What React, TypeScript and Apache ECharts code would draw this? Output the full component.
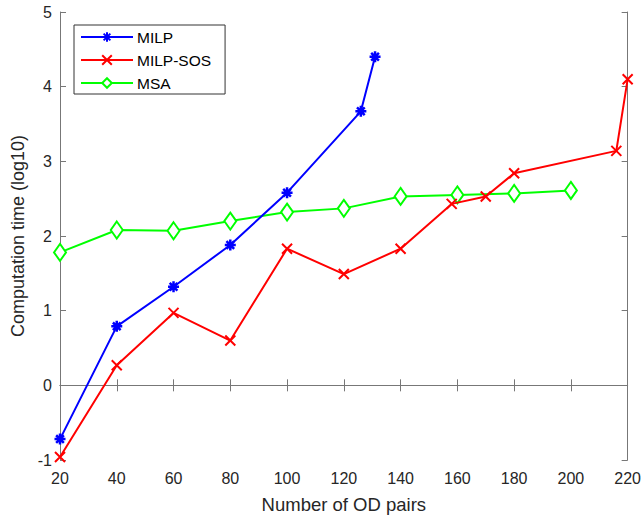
import React, { useEffect, useRef } from "react";
import * as echarts from "echarts";

const milpX = [20, 40, 60, 80, 100, 126, 131];
const milpY = [-0.72, 0.79, 1.32, 1.88, 2.58, 3.67, 4.4];
const sosX = [20, 40, 60, 80, 100, 120, 140, 158, 170, 180, 216, 220];
const sosY = [-0.96, 0.27, 0.97, 0.6, 1.83, 1.49, 1.83, 2.43, 2.53, 2.84, 3.14, 4.1];
const msaX = [20, 40, 60, 80, 100, 120, 140, 160, 180, 200];
const msaY = [1.78, 2.08, 2.07, 2.2, 2.32, 2.37, 2.53, 2.55, 2.57, 2.61];

const seriesNames = ["MILP", "MILP-SOS", "MSA"];
const xTitle = "Number of OD pairs";
const yTitle = "Computation time (log10)";

const pair = (xs: number[], ys: number[]) => xs.map((x, i) => [x, ys[i]]);

const ASTER = "path://M0,-10L0,10M-10,0L10,0M-7,-7L7,7M-7,7L7,-7";
const CROSS = "path://M-10,-10L10,10M-10,10L10,-10";

export default function App() {
  const ref = useRef<HTMLDivElement>(null);
  useEffect(() => {
    document.body.style.margin = "0";
    const chart = echarts.init(ref.current!, null, { renderer: "svg" });
    const font = "'Liberation Sans', Arial, Helvetica, sans-serif";
    const axisCol = "#777";
    const txtCol = "#262626";
    const baseAxis = {
      axisLine: { show: true, lineStyle: { color: axisCol, width: 1 } },
      axisTick: { show: true, inside: true, length: 6, lineStyle: { color: axisCol } },
      splitLine: { show: false },
    };
    chart.setOption({
      animation: false,
      backgroundColor: "#fff",
      textStyle: { fontFamily: font },
      grid: { left: 60, right: 16, top: 12, bottom: 61, containLabel: false },
      legend: {
        orient: "vertical",
        left: 74,
        top: 25,
        padding: [4, 14, 3, 6],
        itemWidth: 52,
        itemHeight: 12,
        itemGap: 7,
        backgroundColor: "#fff",
        borderColor: "#333",
        borderWidth: 1,
        textStyle: { fontFamily: font, fontSize: 15.5, color: "#000", padding: [0, 0, 0, -1] },
        data: seriesNames,
      },
      xAxis: [
        {
          ...baseAxis,
          type: "value",
          min: 20,
          max: 220,
          interval: 20,
          name: xTitle,
          nameLocation: "middle",
          nameGap: 35,
          nameTextStyle: { fontFamily: font, fontSize: 18.5, color: txtCol },
          axisLabel: { fontFamily: font, fontSize: 16, color: txtCol, margin: 10 },
        },
        {
          ...baseAxis,
          type: "value",
          position: "top",
          min: 20,
          max: 220,
          interval: 20,
          axisLabel: { show: false },
        },
      ],
      yAxis: [
        {
          ...baseAxis,
          type: "value",
          min: -1,
          max: 5,
          interval: 1,
          name: yTitle,
          nameLocation: "middle",
          nameGap: 32,
          nameTextStyle: { fontFamily: font, fontSize: 18, color: txtCol },
          axisLabel: { fontFamily: font, fontSize: 16, color: txtCol, margin: 8 },
        },
        {
          ...baseAxis,
          type: "value",
          position: "right",
          min: -1,
          max: 5,
          interval: 1,
          axisLabel: { show: false },
        },
      ],
      series: [
        {
          name: "MILP",
          type: "line",
          data: pair(milpX, milpY),
          symbol: ASTER,
          symbolSize: 11,
          lineStyle: { color: "#0000ff", width: 2 },
          itemStyle: { color: "#0000ff", borderColor: "#0000ff", borderWidth: 2.5 },
        },
        {
          name: "MILP-SOS",
          type: "line",
          data: pair(sosX, sosY),
          symbol: CROSS,
          symbolSize: 10,
          lineStyle: { color: "#ff0000", width: 2 },
          itemStyle: { color: "#ff0000", borderColor: "#ff0000", borderWidth: 2 },
        },
        {
          name: "MSA",
          type: "line",
          data: pair(msaX, msaY),
          symbol: "diamond",
          symbolSize: [12, 17],
          lineStyle: { color: "#00ff00", width: 2 },
          itemStyle: { color: "#ffffff", borderColor: "#00ff00", borderWidth: 2 },
          z: 1,
        },
      ],
    });
    return () => chart.dispose();
  }, []);
  return <div ref={ref} style={{ width: 644, height: 521 }} />;
}
